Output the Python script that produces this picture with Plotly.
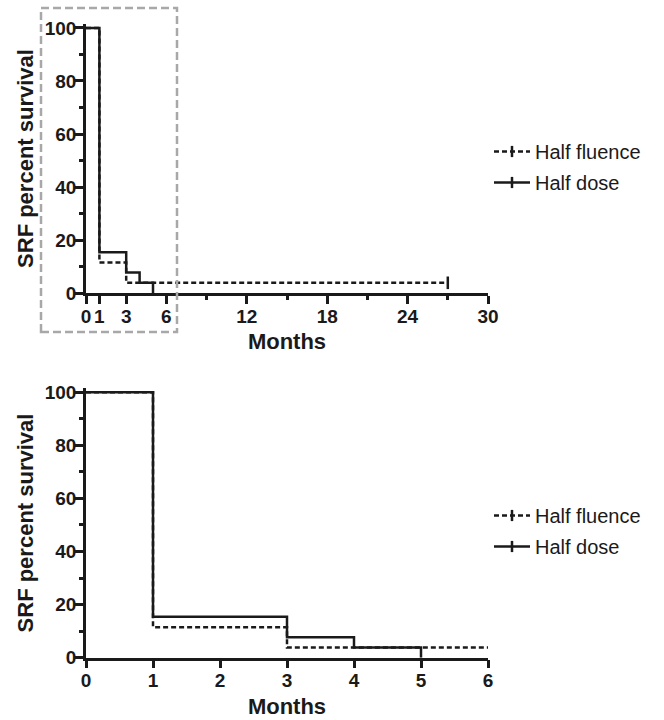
import plotly.graph_objects as go

# ---- data ----
fluence_t = [0, 1, 3, 27]
fluence_s = [100, 11.5, 3.85, 3.85]
dose_t = [0, 1, 3, 4, 5]
dose_s = [100, 15.4, 7.7, 3.85, 0]
censor_fluence_t = [27]
censor_fluence_s = [3.85]
series_names = ["Half fluence", "Half dose"]
top_xticks = [0, 1, 3, 6, 12, 18, 24, 30]
top_xminor = [9, 15, 21, 27]
bottom_xticks = [0, 1, 2, 3, 4, 5, 6]
yticks = [0, 20, 40, 60, 80, 100]
yminor = [10, 30, 50, 70, 90]

W, H = 664, 720
FONT = "Liberation Sans, Arial, sans-serif"
LW = 2.5
BLACK = "#1a1a1a"

def px_x(p):
    return p / W

def px_y(p):
    return 1 - p / H

# pixel geometry
x_left, x_right = 86, 488
ytop_range = 101.5
def ydomain(p0, p100):
    ppu = (p0 - p100) / 100.0
    ptop = p0 - ytop_range * ppu
    return [px_y(p0), px_y(ptop)]

fig = go.Figure()

for row, (xa, ya, leg) in enumerate([("x", "y", "legend"), ("x2", "y2", "legend2")]):
    fig.add_trace(go.Scatter(x=fluence_t, y=fluence_s, mode="lines", line_shape="hv",
                             line=dict(color=BLACK, width=LW, dash="5px,3px"),
                             xaxis=xa, yaxis=ya, showlegend=False))
    fig.add_trace(go.Scatter(x=dose_t, y=dose_s, mode="lines", line_shape="hv",
                             line=dict(color=BLACK, width=LW),
                             xaxis=xa, yaxis=ya, showlegend=False))
    fig.add_trace(go.Scatter(x=censor_fluence_t, y=censor_fluence_s, mode="markers",
                             marker=dict(symbol="line-ns-open", size=9, color=BLACK,
                                         line=dict(color=BLACK, width=LW)),
                             xaxis=xa, yaxis=ya, showlegend=False, cliponaxis=False))
    # legend-only entries
    for name, dash in zip(series_names, ["5px,3px", "solid"]):
        fig.add_trace(go.Scatter(x=[None], y=[None], mode="lines+markers", name=name,
                                 line=dict(color=BLACK, width=LW, dash=dash),
                                 marker=dict(symbol="line-ns-open", size=8, color=BLACK,
                                             line=dict(color=BLACK, width=LW)),
                                 xaxis=xa, yaxis=ya, legend=leg, legendgroup=name + leg))

tickfont = dict(family=FONT, size=19, color=BLACK, weight="bold")
titlefont = dict(family=FONT, size=22, color=BLACK, weight="bold")

common_x = dict(showline=True, linecolor=BLACK, linewidth=LW, ticks="outside",
                ticklen=8, tickwidth=LW, tickcolor=BLACK, showgrid=False, zeroline=False,
                automargin=False, tickfont=tickfont, ticklabelstandoff=-4,
                title=dict(text="Months", font=titlefont, standoff=9))
common_y = dict(showline=True, linecolor=BLACK, linewidth=LW, ticks="outside",
                ticklen=8, tickwidth=LW, tickcolor=BLACK, showgrid=False, zeroline=False,
                automargin=False, tickfont=tickfont, range=[0, ytop_range], tickvals=yticks,
                ticklabelstandoff=-5,
                minor=dict(tickvals=yminor, ticklen=4, tickwidth=LW, tickcolor=BLACK, ticks="outside"),
                title=dict(text="SRF percent survival", font=titlefont, standoff=6))

legend_common = dict(xanchor="left", yanchor="top",
                     font=dict(family=FONT, size=20, color=BLACK), traceorder="grouped",
                     tracegroupgap=2, itemwidth=36, bgcolor="rgba(0,0,0,0)")

fig.update_layout(
    width=W, height=H, margin=dict(l=0, r=0, t=0, b=0),
    paper_bgcolor="white", plot_bgcolor="white",
    xaxis=dict(common_x, domain=[px_x(x_left), px_x(x_right)], range=[0, 30],
               tickvals=top_xticks, anchor="y",
               minor=dict(tickvals=top_xminor, ticklen=4, tickwidth=LW, tickcolor=BLACK, ticks="outside")),
    yaxis=dict(common_y, domain=ydomain(293, 28), anchor="x"),
    xaxis2=dict(common_x, domain=[px_x(x_left), px_x(x_right)], range=[0, 6],
                tickvals=bottom_xticks, anchor="y2"),
    yaxis2=dict(common_y, domain=ydomain(657.7, 392.3), anchor="x2"),
    legend=dict(legend_common, x=px_x(489), y=px_y(132)),
    legend2=dict(legend_common, x=px_x(489), y=px_y(496)),
    shapes=[dict(type="rect", xref="paper", yref="paper",
                 x0=px_x(41), x1=px_x(177), y0=px_y(332), y1=px_y(8),
                 line=dict(color="#a8a8a8", width=2.5, dash="8px,4px"))],
)

fig.write_html("out.html")
